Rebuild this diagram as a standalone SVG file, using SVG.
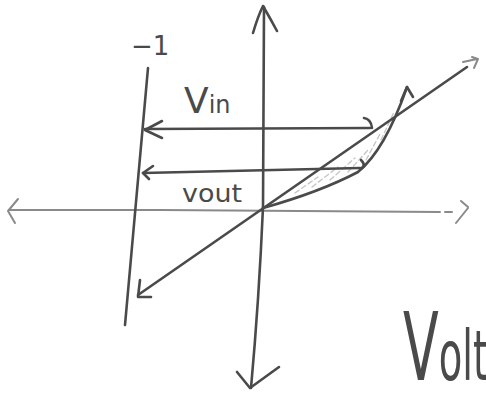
<svg xmlns="http://www.w3.org/2000/svg" width="486" height="398" viewBox="0 0 486 398">
<style>
.pen{fill:none;stroke:#4a4a4a;stroke-width:2.6;stroke-linecap:round;stroke-linejoin:round}
.light{fill:none;stroke:#8a8a8a;stroke-width:2;stroke-linecap:round;stroke-linejoin:round}
.hatch{fill:none;stroke:#c4c4c4;stroke-width:1.3;stroke-dasharray:5 3;stroke-linecap:round}
.lbl{font-family:"DejaVu Sans","Liberation Sans",sans-serif;fill:#4a4a4a}
</style>
<rect width="486" height="398" fill="#ffffff"/>
<g id="axes">
  <path class="light" d="M9,210 L160,210 L440,212"/>
  <path class="light" d="M445,212 L452,212"/>
  <path class="light" d="M18,199 L8,211 L15,223"/>
  <path class="light" d="M461,201 L468,207 M468,208 L456,223"/>
  <path class="pen" d="M264,7 L263,207 Q259,300 251,388"/>
  <path class="pen" d="M253,33 Q258,16 263,6 Q270,18 277,31"/>
  <path class="pen" d="M237,372 L250,388 L279,367"/>
  <path class="pen" d="M148,68 L125,325"/>
</g>
<g id="loop">
  <path class="pen" d="M263,208 Q320,192 358,172 Q385,150 407,87"/>
  <path class="pen" d="M401,101 L407,87 L413,97"/>
  <path class="hatch" d="M295,193 L318,177 M312,187 L338,167 M330,180 L355,158 M348,172 L368,150 M366,160 L380,134 M381,140 L394,112"/>
</g>
<g id="connectors">
  <path class="pen" d="M138,295 L467,67"/>
  <path class="pen" d="M140,280 L138,297 L151,297"/>
  <path class="light" d="M463,62 L477,59 M472,57 L478,59 L474,68"/>
  <path class="pen" d="M370,128 L145,129"/>
  <path class="pen" d="M162,121 L145,130 L162,138"/>
  <path class="pen" d="M372,128 Q371,119 364,118"/>
  <path class="pen" d="M360,168 L143,173"/>
  <path class="pen" d="M153,166 L143,173 L149,179"/>
  <path class="pen" d="M360,169 Q367,166 361,160"/>
</g>
<g id="labels">
  <text class="lbl" x="131" y="55" font-size="26">−1</text>
  <text class="lbl" x="184" y="113" font-size="36">V<tspan font-size="24">in</tspan></text>
  <text class="lbl" x="182" y="202" font-size="24" textLength="60" lengthAdjust="spacingAndGlyphs">vout</text>
  <text class="lbl" transform="translate(403,380) scale(0.55,1)"><tspan font-size="95">V</tspan><tspan font-size="70">olt</tspan></text>
</g>
</svg>
